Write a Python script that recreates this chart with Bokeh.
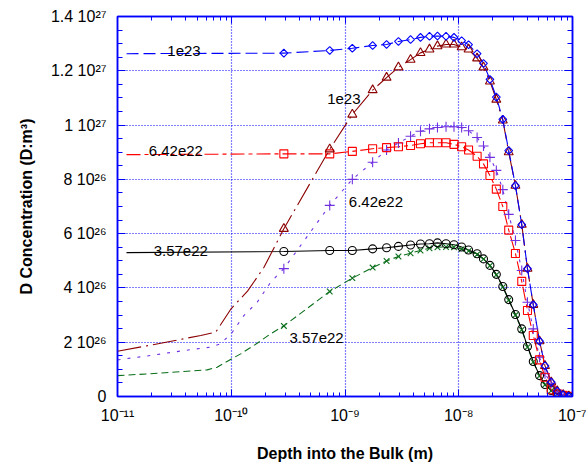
import numpy as np
from bokeh.plotting import figure
from bokeh.models import (LogAxis, LinearAxis, FixedTicker, Range1d,
                          CustomJSTickFormatter, ColumnDataSource)
from bokeh.embed import file_html
from bokeh.resources import INLINE
from bokeh.core.properties import value

# ---------------- data ----------------
depth_m = [2.90e-10, 7.34e-10, 1.16e-9, 1.75e-9, 2.32e-9, 2.95e-9, 3.77e-9, 4.61e-9,
           5.53e-9, 6.50e-9, 7.73e-9, 9.08e-9, 1.06e-8, 1.22e-8, 1.45e-8, 1.65e-8,
           1.88e-8, 2.14e-8, 2.44e-8, 2.75e-8, 3.15e-8, 3.58e-8, 4.02e-8, 4.52e-8,
           5.13e-8, 5.73e-8, 6.50e-8, 7.34e-8, 8.28e-8, 9.27e-8]

# concentrations in units of 1e27 D/m^3
conc_1e23_flat = [1.265, 1.275, 1.283, 1.293, 1.297, 1.308, 1.315, 1.323, 1.327, 1.328,
                  1.327, 1.323, 1.311, 1.296, 1.263, 1.227, 1.168, 1.103, 1.021, 0.906,
                  0.777, 0.633, 0.471, 0.338, 0.204, 0.113, 0.053, 0.020, 0.006, 0.001]
conc_1e23_rise = [0.618, 0.911, 1.039, 1.129, 1.175, 1.213, 1.241, 1.266, 1.279, 1.291,
                  1.297, 1.297, 1.287, 1.279, 1.246, 1.213, 1.161, 1.094, 1.017, 0.900,
                  0.777, 0.633, 0.471, 0.338, 0.204, 0.113, 0.053, 0.020, 0.006, 0.001]
conc_642_flat = [0.894, 0.894, 0.903, 0.913, 0.917, 0.920, 0.925, 0.931, 0.935, 0.935,
                 0.935, 0.929, 0.920, 0.908, 0.885, 0.857, 0.814, 0.764, 0.700, 0.613,
                 0.527, 0.424, 0.317, 0.225, 0.135, 0.071, 0.025, 0.010, 0.004, 0.001]
conc_642_rise = [0.471, 0.704, 0.800, 0.863, 0.908, 0.934, 0.959, 0.977, 0.986, 0.991,
                 0.994, 0.994, 0.991, 0.979, 0.954, 0.923, 0.881, 0.833, 0.762, 0.671,
                 0.575, 0.464, 0.347, 0.249, 0.145, 0.084, 0.049, 0.018, 0.007, 0.002]
conc_357_flat = [0.534, 0.538, 0.538, 0.544, 0.548, 0.553, 0.558, 0.562, 0.563, 0.566,
                 0.563, 0.559, 0.551, 0.540, 0.526, 0.507, 0.483, 0.450, 0.405, 0.357,
                 0.302, 0.249, 0.184, 0.129, 0.077, 0.044, 0.022, 0.009, 0.004, 0.001]
conc_357_rise = [0.260, 0.387, 0.436, 0.475, 0.499, 0.516, 0.528, 0.538, 0.546, 0.550,
                 0.551, 0.550, 0.543, 0.536, 0.523, 0.506, 0.482, 0.448, 0.403, 0.355,
                 0.300, 0.246, 0.182, 0.127, 0.076, 0.043, 0.021, 0.009, 0.003, 0.001]

# line-only points before the first marker
lead_depth_flat = [1.2e-11]
lead_1e23_flat = [1.263]
lead_642_flat = [0.891]
lead_357_flat = [0.530]

lead_depth_1e23_rise = [1.0e-11, 2.4e-11, 5.4e-11, 7.3e-11, 1.0e-10, 1.39e-10, 1.94e-10]
lead_1e23_rise = [0.167, 0.196, 0.225, 0.237, 0.324, 0.388, 0.476]
lead_depth_642_rise = [1.0e-11, 1.95e-11, 3.8e-11, 6.6e-11, 8.0e-11, 1.0e-10, 1.29e-10, 1.69e-10, 2.22e-10]
lead_642_rise = [0.135, 0.151, 0.169, 0.182, 0.194, 0.231, 0.298, 0.347, 0.421]
lead_depth_357_rise = [1.0e-11, 1.95e-11, 3.83e-11, 6.14e-11, 7.51e-11, 9.53e-11, 1.21e-10, 1.69e-10, 2.22e-10]
lead_357_rise = [0.077, 0.084, 0.092, 0.098, 0.108, 0.133, 0.157, 0.196, 0.231]

SCALE = 1e27

x_ticks = [1e-11, 1e-10, 1e-9, 1e-8, 1e-7]
x_tick_labels = ["10\u207b\u00b9\u00b9", "10\u207b\u00b9\u2070", "10\u207b\u2079", "10\u207b\u2078", "10\u207b\u2077"]
y_ticks = [0, 2e26, 4e26, 6e26, 8e26, 1e27, 1.2e27, 1.4e27]
y_tick_labels = ["0", "2 10\u00b2\u2076", "4 10\u00b2\u2076", "6 10\u00b2\u2076", "8 10\u00b2\u2076",
                 "1 10\u00b2\u2077", "1.2 10\u00b2\u2077", "1.4 10\u00b2\u2077"]

annot_text = ["1e23", "1e23", "6.42e22", "6.42e22", "3.57e22", "3.57e22"]
annot_x = [2.74e-11, 6.97e-10, 1.88e-11, 1.08e-9, 2.08e-11, 3.25e-10]
annot_y = [1.272e27, 1.097e27, 0.904e27, 0.716e27, 0.535e27, 0.216e27]

# ---------------- figure ----------------
FONT = "Liberation Sans"
BLUE = "#0000ff"

p = figure(width=586, height=465,
           x_axis_type="log", x_range=Range1d(1e-11, 1e-7), y_range=Range1d(0, 1.4e27),
           output_backend="svg", toolbar_location=None,
           min_border_left=117, min_border_right=14, min_border_top=16, min_border_bottom=69)
p.outline_line_color = BLUE
p.outline_line_width = 1.5

x_minor = [m * 10.0 ** e for e in range(-11, -7) for m in range(2, 10)]
y_minor = [k * 5e25 for k in range(0, 29)]
xt = FixedTicker(ticks=x_ticks, minor_ticks=x_minor)
yt = FixedTicker(ticks=y_ticks, minor_ticks=y_minor)

xfmt = CustomJSTickFormatter(args=dict(labs=x_tick_labels), code="return labs[index];")
yfmt = CustomJSTickFormatter(args=dict(labs=y_tick_labels), code="return labs[index];")
blank = CustomJSTickFormatter(code="return '';")

def style_axis(ax, major_in, minor_in):
    ax.axis_line_color = BLUE
    ax.axis_line_width = 1.5
    ax.major_tick_line_color = BLUE
    ax.minor_tick_line_color = BLUE
    ax.major_tick_in = major_in
    ax.major_tick_out = 0
    ax.minor_tick_in = minor_in
    ax.minor_tick_out = 0
    ax.major_label_text_font = FONT
    ax.major_label_text_font_size = "16px"
    ax.major_label_text_color = "#000000"
    ax.axis_label_text_font = FONT
    ax.axis_label_text_font_style = "bold"
    ax.axis_label_text_font_size = "16px"
    ax.axis_label_text_color = "#000000"

xa = p.xaxis[0]
xa.ticker = xt
xa.formatter = xfmt
style_axis(xa, 7, 4)
xa.major_label_standoff = 10
xa.axis_label = "Depth into the Bulk (m)"
xa.axis_label_standoff = 18

ya = p.yaxis[0]
ya.ticker = yt
ya.formatter = yfmt
style_axis(ya, 8, 5)
ya.major_label_standoff = 11
ya.axis_label = "D Concentration (D:m\u00b3)"
ya.axis_label_standoff = 13

top = LogAxis(ticker=xt, formatter=blank)
style_axis(top, 7, 4)
top.major_label_standoff = 0
top.major_label_text_font_size = "1px"
p.add_layout(top, "above")
right = LinearAxis(ticker=yt, formatter=blank)
style_axis(right, 8, 5)
right.major_label_standoff = 0
right.major_label_text_font_size = "1px"
p.add_layout(right, "right")

p.xgrid.ticker = xt
p.ygrid.ticker = yt
for g in (p.xgrid, p.ygrid):
    g.grid_line_color = BLUE
    g.grid_line_dash = "1 2"
    g.grid_line_width = 1.2

# ---------------- series ----------------
def sc(vals):
    return [v * SCALE for v in vals]

series = [
    # lead x, lead y, marker y, color, dash, marker, size, angle
    (lead_depth_357_rise, lead_357_rise, conc_357_rise, "#0a6e1a", "7 4", "x", 8, 0),
    (lead_depth_flat, lead_357_flat, conc_357_flat, "#000000", "solid", "circle", 8, 0),
    (lead_depth_642_rise, lead_642_rise, conc_642_rise, "#7030e0", "3 7", "cross", 10, 0),
    (lead_depth_flat, lead_642_flat, conc_642_flat, "#ff0000", "14 4 4 4", "square", 8, 0),
    (lead_depth_1e23_rise, lead_1e23_rise, conc_1e23_rise, "#8b0000", "24 5 2 5", "triangle", 9, 0),
    (lead_depth_flat, lead_1e23_flat, conc_1e23_flat, "#0000ff", "12 5", "square", 5.5, np.pi / 4),
]

for lx, ly, my, col, dash, mk, sz, ang in series:
    line_src = ColumnDataSource(dict(x=list(lx) + depth_m, y=sc(list(ly) + my)))
    p.line("x", "y", source=line_src, line_color=col, line_width=1.1, line_dash=dash)
for lx, ly, my, col, dash, mk, sz, ang in series:
    mk_src = ColumnDataSource(dict(x=depth_m, y=sc(my)))
    p.scatter("x", "y", source=mk_src, marker=mk, size=sz, angle=ang,
              line_color=col, fill_color=None, line_width=1.1)

txt_src = ColumnDataSource(dict(x=annot_x, y=annot_y, t=annot_text))
p.text("x", "y", text="t", source=txt_src, text_font=value(FONT), text_font_size="15px",
       text_color="#000000", text_align="left", text_baseline="alphabetic")

open("out.html", "w").write(file_html(p, INLINE))
